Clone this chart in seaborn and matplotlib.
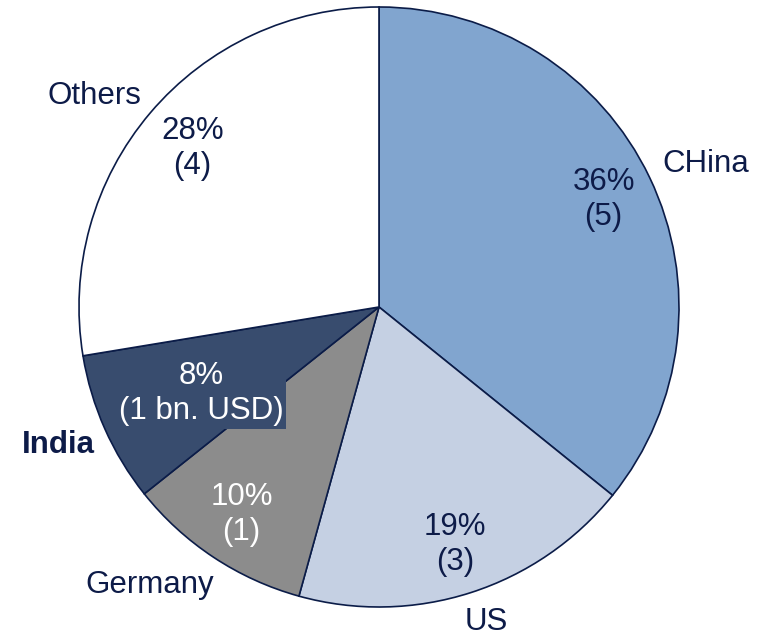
import matplotlib
matplotlib.use("Agg")
import matplotlib.pyplot as plt
import seaborn as sns
import numpy as np

countries = ["CHina", "US", "Germany", "India", "Others"]
shares = [35.8, 18.5, 10.0, 8.1, 27.6]
pct_labels = ["36%", "19%", "10%", "8%", "28%"]
value_labels = ["(5)", "(3)", "(1)", "(1 bn. USD)", "(4)"]

colors = ["#81A5CF", "#C5D0E3", "#8C8C8C", "#384C6E", "#FFFFFF"]
edge = "#0B1C48"
text_dark = "#0D1B48"
inner_colors = [text_dark, text_dark, "white", "white", text_dark]
inner_r = [0.83, 0.83, 0.83, 0.66, 0.815]
inner_shift = [0.0, 0.0, 0.0, 2.0, 0.0]
outer_r = [1.19, 1.11, 1.20, 1.165, 1.18]
outer_shift = [-2.0, 1.0, -6.0, -0.6, 3.8]
outer_weight = ["normal", "normal", "normal", "bold", "normal"]

sns.set_theme(style="white")
plt.rcParams["font.family"] = ["Liberation Sans", "DejaVu Sans"]

fig = plt.figure(figsize=(7.69, 6.38), dpi=100)
ax = fig.add_axes([0, 0, 1, 1])
wedges, _ = ax.pie(shares, colors=colors, startangle=90, counterclock=False,
                   radius=1.0,
                   wedgeprops=dict(edgecolor=edge, linewidth=1.2))

fs = 22.5
for i, w in enumerate(wedges):
    mid = np.deg2rad((w.theta1 + w.theta2) / 2)
    b = mid + np.deg2rad(inner_shift[i])
    x, y = inner_r[i] * np.cos(b), inner_r[i] * np.sin(b)
    bbox = None
    if countries[i] == "India":
        bbox = dict(facecolor=colors[i], edgecolor="none", pad=2.0)
    ax.text(x, y, pct_labels[i] + "\n" + value_labels[i], ha="center", va="center",
            fontsize=fs, color=inner_colors[i], linespacing=1.22, bbox=bbox)
    a = mid + np.deg2rad(outer_shift[i])
    ax.text(outer_r[i] * np.cos(a), outer_r[i] * np.sin(a), countries[i],
            ha="center", va="center", fontsize=fs, color=text_dark,
            fontweight=outer_weight[i])

ax.set_xlim(-379 / 300, (769 - 379) / 300)
ax.set_ylim(-(638 - 307) / 300, 307 / 300)
ax.set_aspect("equal")
ax.axis("off")
fig.savefig("out.png", dpi=100, facecolor="white")
